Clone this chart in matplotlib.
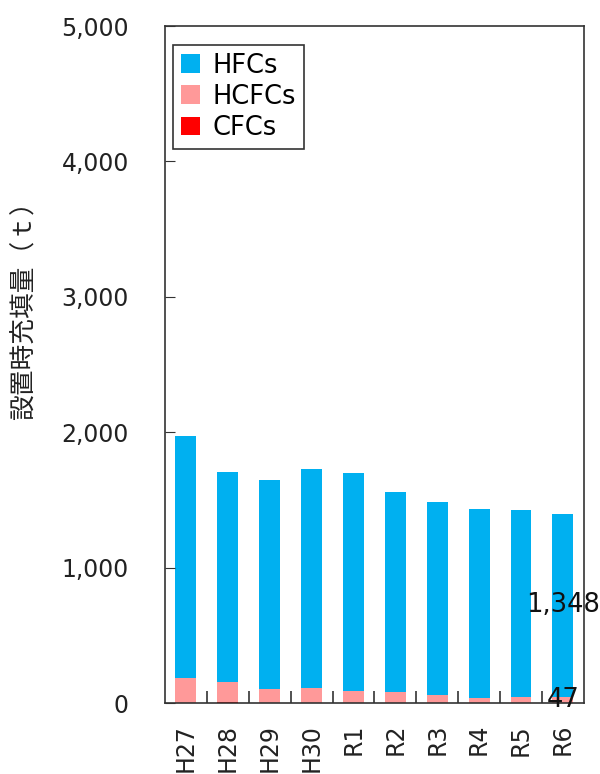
import matplotlib.pyplot as plt
import numpy as np

plt.rcParams['font.family'] = ['DejaVu Sans', 'Noto Sans CJK JP']

# Data (t)
years = ['H27', 'H28', 'H29', 'H30', 'R1', 'R2', 'R3', 'R4', 'R5', 'R6']
cfcs = [3, 8, 1, 1, 0, 0, 0, 0, 0, 0]
hcfcs = [179, 145, 100, 107, 91, 79, 61, 35, 42, 47]
hfcs = [1790, 1553, 1544, 1620, 1605, 1482, 1426, 1398, 1383, 1348]

c_hfc = '#00B0F0'
c_hcfc = '#FF9999'
c_cfc = '#FF0000'

fig = plt.figure(figsize=(6, 7.74), dpi=100)
ax = fig.add_axes([0.275, 0.0917, 0.698, 0.8747])

x = np.arange(len(years))
cfcs = np.array(cfcs)
hcfcs = np.array(hcfcs)
hfcs = np.array(hfcs)
w = 0.5

ax.bar(x, cfcs, w, color=c_cfc, label='CFCs')
ax.bar(x, hcfcs, w, bottom=cfcs, color=c_hcfc, label='HCFCs')
ax.bar(x, hfcs, w, bottom=cfcs + hcfcs, color=c_hfc, label='HFCs')

# value labels for the last year
i = len(years) - 1
ax.text(x[i], cfcs[i] + hcfcs[i] + hfcs[i] / 2, f'{hfcs[i]:,}',
        ha='center', va='center', fontsize=18.5, color='#111111')
ax.text(x[i], cfcs[i] + hcfcs[i] / 2, f'{hcfcs[i]:,}',
        ha='center', va='center', fontsize=18.5, color='#111111')

ax.set_xlim(-0.5, len(years) - 0.5)
ax.set_ylim(0, 5000)
ax.set_yticks(np.arange(0, 5001, 1000))
ax.set_yticklabels([f'{v:,}' for v in range(0, 5001, 1000)])
ax.tick_params(axis='y', direction='in', length=7, pad=26, labelsize=17,
               colors='#333333', labelcolor='#222222')

ax.set_xticks(x)
ax.set_xticklabels(years, rotation=90, fontsize=17, color='#222222')
ax.tick_params(axis='x', which='major', length=0, pad=15)
ax.set_xticks(np.arange(0.5, len(years) - 1, 1), minor=True)
ax.tick_params(axis='x', which='minor', direction='in', length=9, width=1.2,
               color='#333333')

for s in ax.spines.values():
    s.set_color('#333333')
    s.set_linewidth(1.2)

fig.text(25 / 600, 1 - 304 / 774, '設置時充填量（ｔ）', rotation=90,
         ha='center', va='center', fontsize=18.5, color='#222222',
         family=['Noto Sans CJK JP', 'DejaVu Sans'])

handles, labels = ax.get_legend_handles_labels()
leg = ax.legend(handles[::-1], labels[::-1], loc='upper left',
                bbox_to_anchor=(0.019, 0.972), borderaxespad=0,
                fontsize=18.5, handlelength=0.75, handleheight=0.75,
                handletextpad=0.5, labelspacing=0.2, borderpad=0.3,
                fancybox=False, framealpha=1)
leg.get_frame().set_edgecolor('#333333')
leg.get_frame().set_linewidth(1.2)

fig.savefig('out.png', dpi=100)
